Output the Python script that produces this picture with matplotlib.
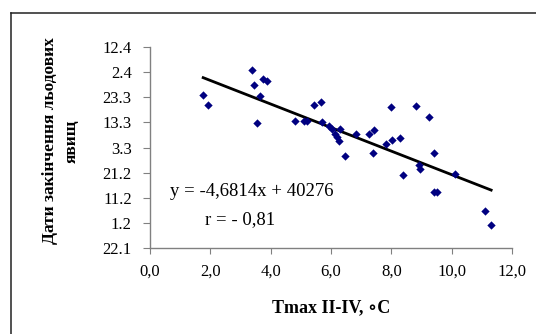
import matplotlib
matplotlib.use("Agg")
import matplotlib.pyplot as plt
from matplotlib.lines import Line2D
import numpy as np

# Data: x = Tmax II-IV (°C), y = ice-phenomena end dates as Excel serial days
tmax = [1.77, 1.94, 3.40, 3.46, 3.74, 3.89, 3.65, 3.54, 4.82, 5.11,
        5.20, 5.45, 5.68, 5.70, 5.93, 6.03, 6.14, 6.21, 6.27, 6.30,
        6.47, 6.83, 7.27, 7.43, 7.38, 7.82, 8.01, 7.98, 8.30, 8.39,
        8.82, 9.23, 9.41, 8.92, 8.96, 10.12, 9.41, 9.51, 11.09, 11.30]
end_date = [40260.7, 40256.9, 40270.6, 40264.9, 40267.2, 40266.4, 40260.4, 40249.6, 40250.4, 40250.6,
            40250.4, 40256.9, 40258.1, 40250.1, 40248.5, 40247.3, 40245.2, 40244.0, 40242.6, 40247.3,
            40236.5, 40245.4, 40245.4, 40246.9, 40237.7, 40241.5, 40242.8, 40256.2, 40243.9, 40229.0,
            40256.5, 40252.0, 40237.7, 40233.1, 40231.5, 40229.4, 40222.5, 40222.3, 40214.8, 40209.4]

slope = -4.6814
intercept = 40276

y_ticks = [40200, 40210, 40220, 40230, 40240, 40250, 40260, 40270, 40280]
y_tick_labels = ['22.1', '1.2', '11.2', '21.2', '3.3', '13.3', '23.3', '2.4', '12.4']
x_ticks = [0, 2, 4, 6, 8, 10, 12]
x_tick_labels = ['0,0', '2,0', '4,0', '6,0', '8,0', '10,0', '12,0']

serif = ['Liberation Serif', 'DejaVu Serif']

W, H = 536, 334
fig = plt.figure(figsize=(W / 100, H / 100), dpi=100)
fig.patch.set_facecolor('white')

# outer chart frame (cut off on right and bottom)
fx, fy = 11 / W, 1 - 13 / H
fig.add_artist(Line2D([fx, 1.02], [fy, fy], transform=fig.transFigure, color='#222222', lw=1.1))
fig.add_artist(Line2D([fx, fx], [fy, -0.02], transform=fig.transFigure, color='#222222', lw=1.1))

left, right = 149.7, 512.3
top, bottom = 46.7, 248.3
ax = fig.add_axes([left / W, 1 - bottom / H, (right - left) / W, (bottom - top) / H])

ax.scatter(tmax, end_date, marker='D', s=18, color='#000080', zorder=3, linewidths=0)
xl = np.array([min(tmax), max(tmax)])
ax.plot(xl, slope * xl + intercept, color='black', lw=2, zorder=2)

ax.set_xlim(0, 12)
ax.set_ylim(40200, 40280)
ax.set_xticks(x_ticks)
ax.set_xticklabels(x_tick_labels, fontfamily=serif, fontsize=12)
ax.set_yticks(y_ticks)
ax.set_yticklabels(y_tick_labels, fontfamily=serif, fontsize=12)

for s in ['top', 'right']:
    ax.spines[s].set_visible(False)
for s in ['left', 'bottom']:
    ax.spines[s].set_color('#808080')
    ax.spines[s].set_linewidth(1)
ax.tick_params(axis='y', direction='out', length=5, color='#808080', pad=8)
ax.tick_params(axis='x', direction='out', length=4, color='#808080', pad=7)

fig.text(331 / W, 1 - 308 / H, 'Tmax II-IV, ∘C', ha='center', va='center',
         fontfamily=serif + ['DejaVu Sans'], fontweight='bold', fontsize=13)
fig.text(61 / W, 1 - 141 / H, 'Дати закінчення льодових\nявищ', ha='center', va='center',
         rotation=90, fontfamily=serif, fontweight='bold', fontsize=12.5, linespacing=1.45)

fig.text(252 / W, 1 - 191 / H, 'y = -4,6814x + 40276', ha='center', va='center',
         fontfamily=serif, fontsize=13.5)
fig.text(240 / W, 1 - 220 / H, 'r = - 0,81', ha='center', va='center',
         fontfamily=serif, fontsize=13.5)

fig.savefig('out.png', dpi=100)
